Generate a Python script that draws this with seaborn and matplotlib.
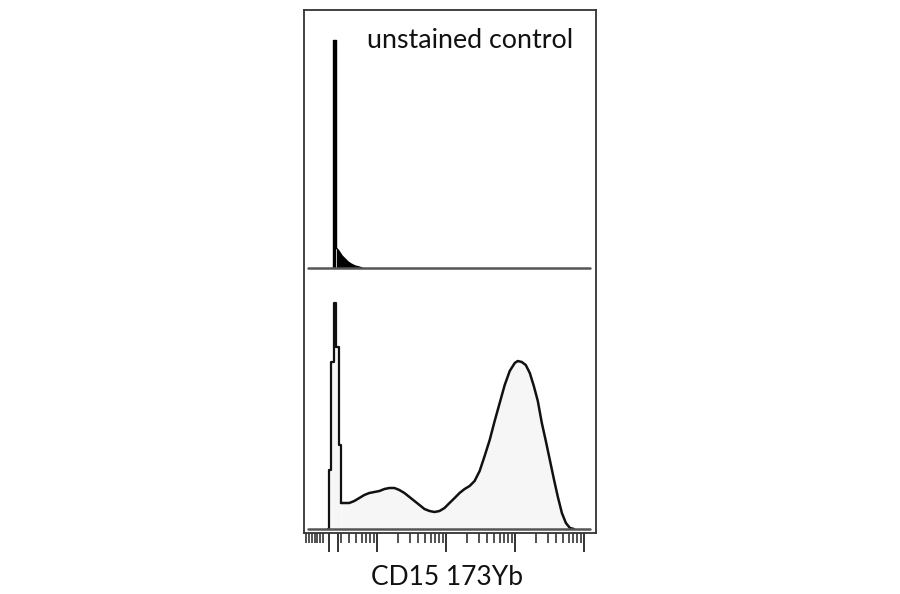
import matplotlib
matplotlib.use("Agg")
import matplotlib.pyplot as plt
import seaborn as sns
import numpy as np

# unstained control (top), black filled: spike bin + decaying tail
top_spike_x = [2.20, 2.33, 2.58]
top_spike_y = [0, 228, 20]
top_tail_x = [2.58, 2.76, 2.95, 3.15, 3.49, 3.85, 4.26, 4.87, 5.57, 6.15]
top_tail_y = [20, 18, 15, 12, 9, 6, 4, 2, 1, 0]

# stained sample (bottom), outlined: narrow spike bins + smooth distribution
bot_spike_x = [1.95, 2.04, 2.18, 2.41, 2.60, 2.85, 3.02]
bot_spike_y = [0, 59, 167, 226, 182, 84, 26]
bot_x = [3.02, 3.98, 4.71, 5.57, 6.58, 7.78, 9.20,
         10.9, 12.9, 15.2, 18.0, 21.2, 25.1, 29.7, 35.1, 41.5, 49.0, 58.0, 68.5, 81.0, 95.7,
         113, 134, 158, 187, 221, 261, 309, 365, 432, 510, 603, 713, 843, 997,
         1102, 1260, 1440, 1647, 1883, 2152, 2460, 2812, 3216, 3676, 4203, 4806, 5494, 6281, 7180]
bot_y = [26, 26, 28, 31, 34, 36, 37,
         38, 40, 41, 41, 39, 36, 32, 28, 24, 20, 18, 17, 18, 21,
         26, 31, 36, 40, 43, 48, 58, 73, 89, 108, 126, 144, 158, 166,
         168, 167, 164, 156, 143, 128, 106, 88, 69, 50, 32, 16, 6, 1, 0]

major_ticks = [2.0, 2.76, 10, 100, 1000, 10000]
minor_ticks = [0.94, 1.04, 1.15, 1.28, 1.37, 1.51, 1.67] + \
    [m * d for d in [1, 10, 100, 1000] for m in range(3 if d == 1 else 2, 10)]

title_text = "unstained control"
xlabel_text = "CD15 173Yb"

sns.set_style("white")
plt.rcParams['font.family'] = ['Lato', 'DejaVu Sans']

fig = plt.figure(figsize=(9, 5.94), dpi=100)
W, H = 900, 594
xlim = (0.88, 15000)

# outer frame with ticks
box = fig.add_axes([304 / W, (H - 533) / H, 292 / W, 523 / H])
box.set_xscale('log')
box.set_xlim(*xlim)
box.set_yticks([])
for s in box.spines.values():
    s.set_color('#333333')
    s.set_linewidth(1.3)
box.set_xticks(major_ticks)
box.set_xticks(minor_ticks, minor=True)
box.tick_params(axis='x', which='both', direction='out', color='#333333',
                labelbottom=False, bottom=True)
box.tick_params(axis='x', which='major', length=13.5, width=1.4)
box.tick_params(axis='x', which='minor', length=7.5, width=1.2)

# top histogram
ax1 = fig.add_axes([304 / W, (H - 268) / H, 292 / W, (268 - 10) / H])
ax1.patch.set_alpha(0)
ax1.set_xscale('log')
ax1.fill_between(top_spike_x, top_spike_y, step='post', color='black', linewidth=0)
ax1.fill_between(top_tail_x, top_tail_y, color='black', linewidth=0)
sns.lineplot(x=top_spike_x, y=top_spike_y, drawstyle='steps-post', color='black', lw=1.0, ax=ax1)
sns.lineplot(x=top_tail_x, y=top_tail_y, color='black', lw=1.0, ax=ax1)
ax1.axhline(0, xmin=4 / 292, xmax=286 / 292, color='#555555', lw=1.8, clip_on=False)
ax1.set_xlim(*xlim)
ax1.set_ylim(0, 258)
ax1.axis('off')

# bottom histogram
ax2 = fig.add_axes([304 / W, (H - 529) / H, 292 / W, (529 - 268) / H])
ax2.patch.set_alpha(0)
ax2.set_xscale('log')
ax2.fill_between(bot_spike_x, bot_spike_y, step='post', color='#f6f6f6', linewidth=0)
ax2.fill_between(bot_x, bot_y, color='#f6f6f6', linewidth=0)
sns.lineplot(x=bot_spike_x, y=bot_spike_y, drawstyle='steps-post', color='#111111', lw=1.6, ax=ax2)
sns.lineplot(x=bot_x, y=bot_y, color='#111111', lw=1.8, ax=ax2)
ax2.axhline(0, xmin=4 / 292, xmax=286 / 292, color='#555555', lw=1.8, clip_on=False)
ax2.set_xlim(*xlim)
ax2.set_ylim(0, 261)
ax2.axis('off')

box.text((470.5 - 304) / 292, (533 - 48) / 523, title_text, transform=box.transAxes,
         ha='center', va='baseline', fontsize=19.3, color='#111111')
fig.text(447 / W, (H - 585) / H, xlabel_text, ha='center', va='baseline',
         fontsize=19, color='#111111')

fig.savefig("out.png", dpi=100)
